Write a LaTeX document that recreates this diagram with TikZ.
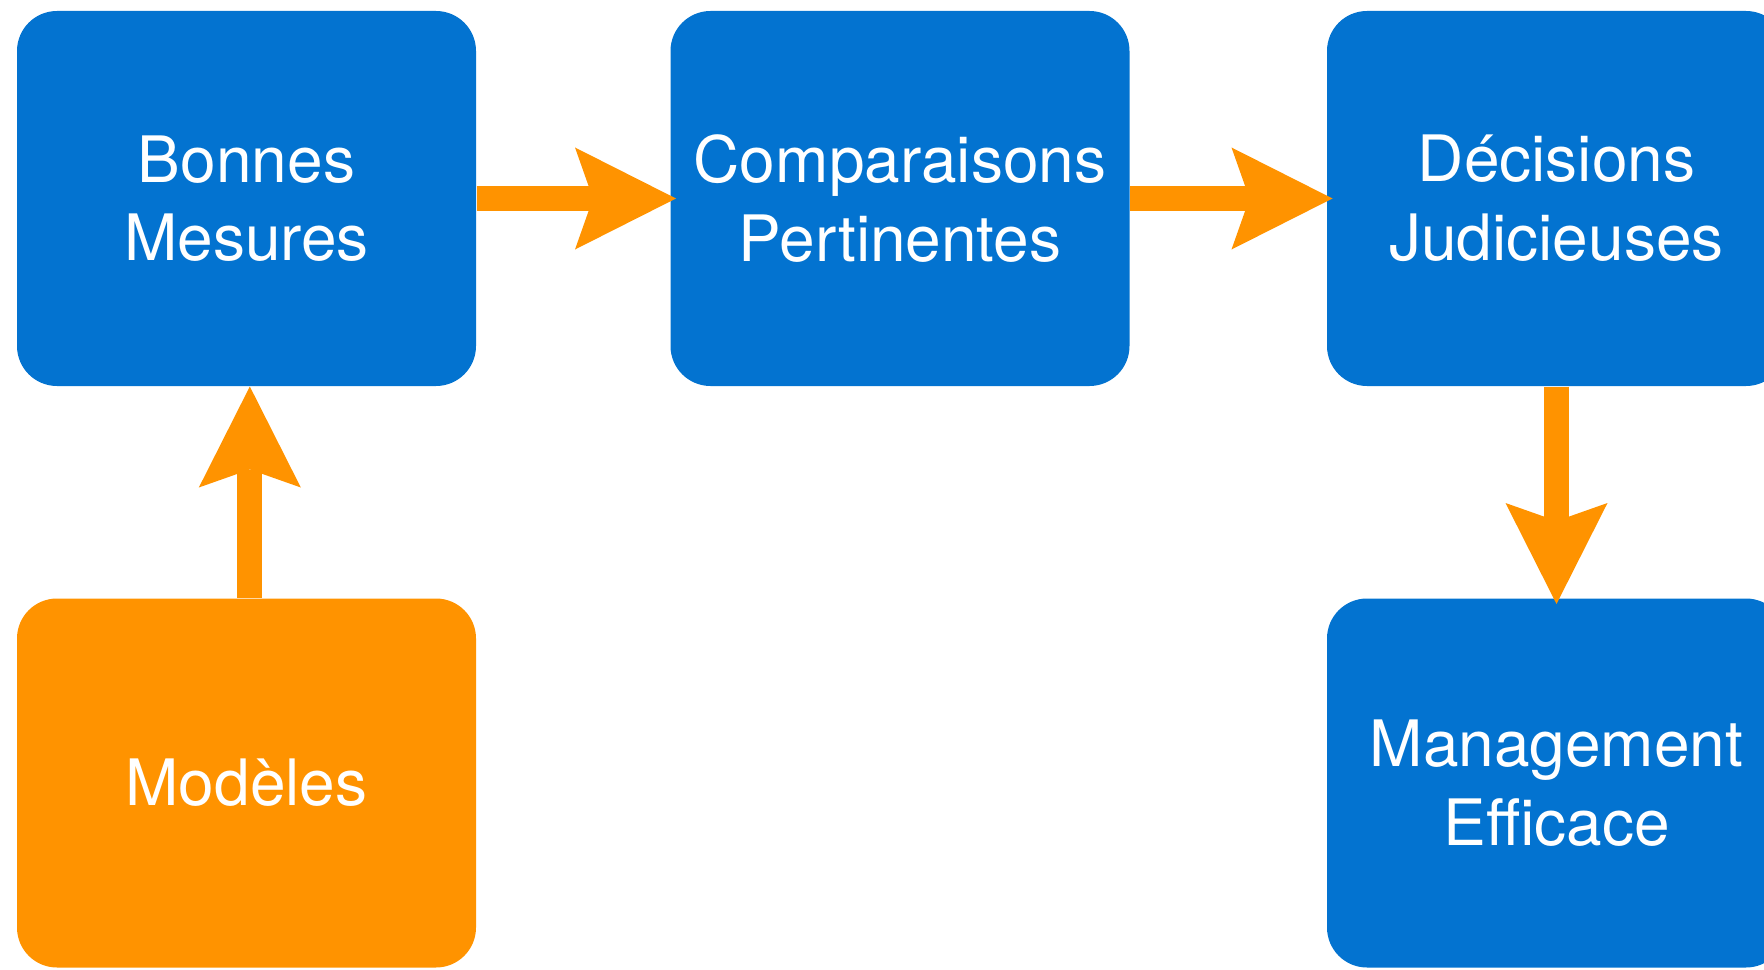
\documentclass[tikz,border=0pt]{standalone}
\usepackage{fontspec}
\setmainfont{TeX Gyre Heros}
\usetikzlibrary{arrows.meta}

\definecolor{boxblue}{RGB}{3,115,208}
\definecolor{boxorange}{RGB}{255,147,0}

\tikzset{every picture/.style={line width=0.75pt}}
\tikzset{
  box/.style={rounded corners=30pt, minimum width=344.25pt, minimum height=281.25pt, inner sep=0pt, text=white, align=center, font=\fontsize{48}{59}\selectfont},
  fatarrow/.style={draw=boxorange, line width=18.75pt, shorten >=-4.5pt, -{Stealth[length=75.75pt, width=76.5pt, inset=13.5pt, line width=0pt, fill=boxorange]}}
}

\begin{document}
\begin{tikzpicture}[x=0.75pt,y=0.75pt,yscale=-1,xscale=1]
\useasboundingbox (0,0) rectangle (1764,970);

%Shape: Rounded Rect [Bonnes Mesures]
\node [box, fill=boxblue] (bonnes) at (246.5,198.5) {Bonnes\\Mesures};
%Shape: Rounded Rect [Comparaisons Pertinentes]
\node [box, fill=boxblue] (comparaisons) at (900,198.5) {Comparaisons\\Pertinentes};
%Shape: Rounded Rect [Décisions Judicieuses]
\node [box, fill=boxblue] (decisions) at (1556.5,198.5) {Décisions\\Judicieuses};
%Shape: Rounded Rect [Modèles]
\node [box, fill=boxorange, minimum height=276.75pt] (modeles) at (246.5,783) {Modèles};
%Shape: Rounded Rect [Management Efficace]
\node [box, fill=boxblue, minimum height=276.75pt] (management) at (1556.5,783) {Management\\Efficace};

%Straight Lines
\draw [fatarrow] (bonnes.east) -- (comparaisons.west);
%Straight Lines
\draw [fatarrow] (comparaisons.east) -- (decisions.west);
%Straight Lines
\draw [fatarrow, shorten >=0pt] ([xshift=2.5pt]modeles.north) -- ([xshift=2.5pt]bonnes.south);
%Straight Lines
\draw [fatarrow] (decisions.south) -- (management.north);

\end{tikzpicture}
\end{document}
